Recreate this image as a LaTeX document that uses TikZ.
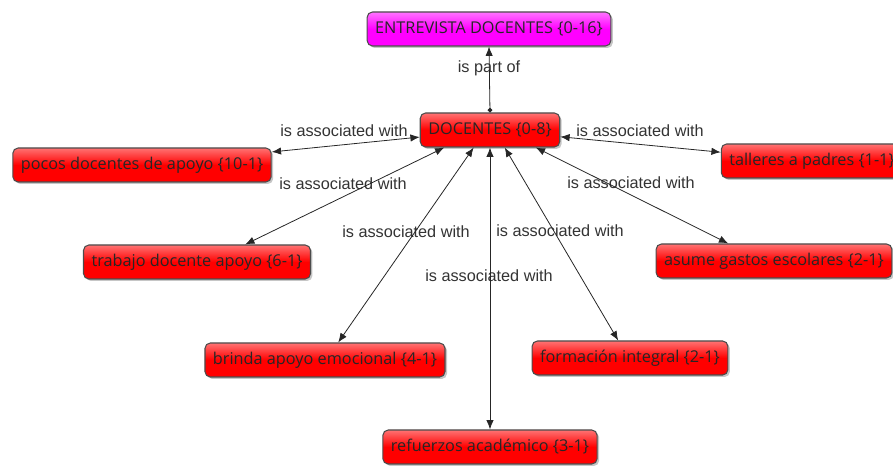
\documentclass[tikz,border=0pt]{standalone}
\usepackage{fontspec}
\setmainfont{Open Sans}
\newfontfamily\linkfont{Liberation Sans}
\usetikzlibrary{arrows.meta,shadows}

\begin{document}
\begin{tikzpicture}[x=0.75pt,y=-0.75pt,
    conceptnode/.style={rectangle, rounded corners=4pt, draw=black!70, thick,
        top color=red!55!white, bottom color=red, middle color=red,
        drop shadow={opacity=0.45, shadow xshift=1.5pt, shadow yshift=-1.5pt},
        minimum height=25.5pt, inner xsep=6pt, font=\fontsize{12.2}{14}\selectfont, text=black!85},
    rootnode/.style={conceptnode, top color=magenta!55!white, bottom color=magenta, middle color=magenta},
    linklabel/.style={font=\linkfont\fontsize{12.2}{14}\selectfont, text=black!80, inner sep=1pt},
    assoc/.style={{Latex[length=7pt,width=5.5pt]}-{Latex[length=7pt,width=5.5pt]}, line width=0.6pt, black!85},
]
\useasboundingbox (0,0) rectangle (893,466);

% concepts
\node[rootnode]    (entrevista) at (489,29)  {ENTREVISTA DOCENTES \{0-16\}};
\node[conceptnode] (docentes)   at (490,130) {DOCENTES \{0-8\}};
\node[conceptnode] (pocos)      at (142,165) {pocos docentes de apoyo \{10-1\}};
\node[conceptnode] (talleres)   at (812,161) {talleres a padres \{1-1\}};
\node[conceptnode] (trabajo)    at (197,262) {trabajo docente apoyo \{6-1\}};
\node[conceptnode] (asume)      at (774,261) {asume gastos escolares \{2-1\}};
\node[conceptnode] (brinda)     at (325,360) {brinda apoyo emocional \{4-1\}};
\node[conceptnode] (formacion)  at (630,358) {formación integral \{2-1\}};
\node[conceptnode] (refuerzos)  at (490,447) {refuerzos académico \{3-1\}};

% linking phrases
\node[linklabel] (partof) at (489,68)  {is part of};
\node[linklabel] (lpocos) at (344,131) {is associated with};
\node[linklabel] (ltall)  at (640,131) {is associated with};
\node[linklabel] (ltrab)  at (343,184) {is associated with};
\node[linklabel] (lasume) at (631,183) {is associated with};
\node[linklabel] (lbrin)  at (406,232) {is associated with};
\node[linklabel] (lform)  at (560,231) {is associated with};
\node[linklabel] (lrefu)  at (489,276) {is associated with};

% links
\draw[{Circle[length=3.5pt]}-{Latex[length=7pt,width=5.5pt]}, line width=0.6pt, black!85] (docentes.north) -- (entrevista.south);
\draw[assoc] (docentes) -- (pocos);
\draw[assoc] (docentes) -- (talleres);
\draw[assoc] (docentes.201) -- (trabajo.20);
\draw[assoc] (docentes.227) -- (brinda.53);
\draw[assoc] (docentes.south) -- (refuerzos.north);
\draw[assoc] (docentes.310) -- (formacion.124);
\draw[assoc] (docentes.339) -- (asume.159);
\end{tikzpicture}
\end{document}
